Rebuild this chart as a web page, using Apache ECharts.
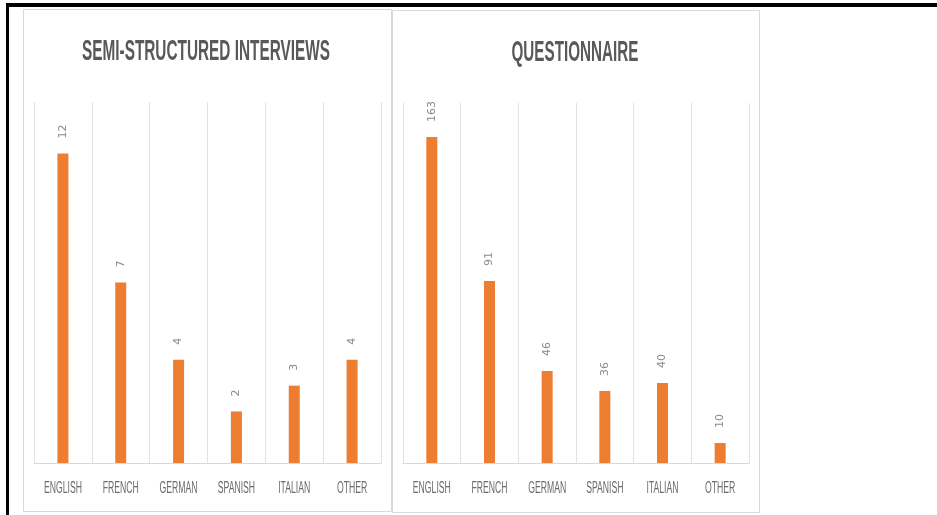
<!DOCTYPE html>
<html>
<head>
<meta charset="utf-8">
<script src="https://cdn.jsdelivr.net/npm/echarts@6/dist/echarts.min.js"></script>
<style>
html,body{margin:0;padding:0;background:#fff;}
#main{width:937px;height:515px;}
</style>
</head>
<body>
<div id="main"></div>
<script>
const categories = ['ENGLISH', 'FRENCH', 'GERMAN', 'SPANISH', 'ITALIAN', 'OTHER'];
const interviewValues = [12, 7, 4, 2, 3, 4];
const questionnaireValues = [163, 91, 46, 36, 40, 10];
const titles = ['SEMI-STRUCTURED INTERVIEWS', 'QUESTIONNAIRE'];

const chart = echarts.init(document.getElementById('main'), null, {renderer: 'canvas'});

const titleFont = 'bold 30px "Liberation Sans", sans-serif';
const catFont = '16px "Liberation Sans", sans-serif';
const mctx = document.createElement('canvas').getContext('2d');
function fitScale(text, font, target) {
  mctx.font = font;
  return target / mctx.measureText(text).width;
}

const barLabel = {
  show: true,
  position: 'top',
  rotate: 90,
  align: 'left',
  verticalAlign: 'middle',
  distance: 15,
  color: '#8a8a8a',
  fontSize: 11,
  fontFamily: '"DejaVu Sans", sans-serif'
};

function xAxis(gridIndex) {
  return {
    type: 'category', gridIndex, data: categories,
    axisTick: {show: false},
    axisLine: {lineStyle: {color: '#d9d9d9', width: 1}},
    splitLine: {show: true, interval: 0, lineStyle: {color: '#e3e3e3', width: 1}},
    axisLabel: {show: false, interval: 0}
  };
}

chart.setOption({
  backgroundColor: '#fff',
  animation: false,
  grid: [
    {left: 34, top: 102, width: 347, height: 361},
    {left: 403, top: 103, width: 346, height: 360}
  ],
  xAxis: [xAxis(0), xAxis(1)],
  yAxis: [
    {type: 'value', gridIndex: 0, min: 0, max: 14, show: false, splitLine: {show: false}},
    {type: 'value', gridIndex: 1, min: 0, max: 180, show: false, splitLine: {show: false}}
  ],
  series: [
    {type: 'bar', xAxisIndex: 0, yAxisIndex: 0, data: interviewValues, barWidth: 11,
     itemStyle: {color: '#ED7D31'}, label: barLabel},
    {type: 'bar', xAxisIndex: 1, yAxisIndex: 1, data: questionnaireValues, barWidth: 11,
     itemStyle: {color: '#ED7D31'}, label: barLabel}
  ]
});

// Decorations, titles and category labels (positions of labels come from the axes)
const graphics = [
  {type: 'rect', shape: {x: 6, y: 3, width: 931, height: 4}, style: {fill: '#000'}},
  {type: 'rect', shape: {x: 6, y: 3, width: 3, height: 512}, style: {fill: '#000'}},
  {type: 'rect', shape: {x: 23.5, y: 9.5, width: 368, height: 502}, style: {fill: 'none', stroke: '#d9d9d9', lineWidth: 1}},
  {type: 'rect', shape: {x: 392.5, y: 10.5, width: 367, height: 502}, style: {fill: 'none', stroke: '#d9d9d9', lineWidth: 1}},
  {type: 'text', x: 206, y: 52, scaleX: fitScale(titles[0], titleFont, 248), scaleY: 1,
   style: {text: titles[0], font: titleFont, fill: '#595959', align: 'center', verticalAlign: 'middle'}},
  {type: 'text', x: 575, y: 53, scaleX: fitScale(titles[1], titleFont, 127), scaleY: 1,
   style: {text: titles[1], font: titleFont, fill: '#595959', align: 'center', verticalAlign: 'middle'}}
];
const catScale = fitScale('ENGLISH', catFont, 38);
[0, 1].forEach(function (ai) {
  categories.forEach(function (c, i) {
    const px = chart.convertToPixel({xAxisIndex: ai}, i);
    const py = chart.convertToPixel({yAxisIndex: ai}, 0);
    graphics.push({type: 'text', x: px, y: py + 26, scaleX: catScale, scaleY: 1,
      style: {text: c, font: catFont, fill: '#6b6b6b', align: 'center', verticalAlign: 'middle'}});
  });
});
chart.setOption({graphic: graphics});
</script>
</body>
</html>
